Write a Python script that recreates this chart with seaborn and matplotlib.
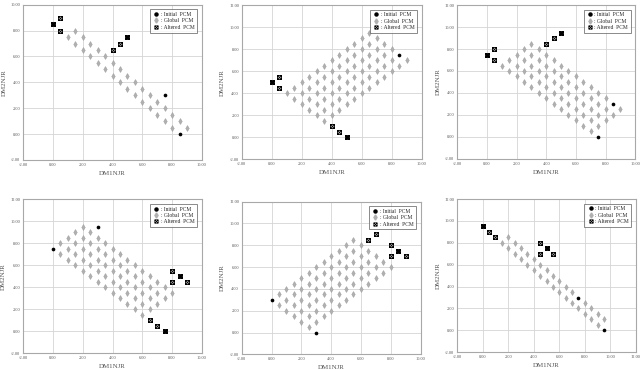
import pandas as pd
import numpy as np
import matplotlib.pyplot as plt
import seaborn as sns
from matplotlib.path import Path
from matplotlib.lines import Line2D

# Global PCM points, one entry per row: y value -> x values
p1_global = {8.0: [1.5], 7.5: [1, 2], 7.0: [1.5, 2.5], 6.5: [2, 3], 6.0: [2.5, 3.5],
             5.5: [3, 4], 5.0: [3.5, 4.5], 4.5: [4, 5], 4.0: [4.5, 5.5], 3.5: [5, 6],
             3.0: [5.5, 6.5], 2.5: [6, 7], 2.0: [6.5, 7.5], 1.5: [7, 8], 1.0: [7.5, 8.5],
             0.5: [8, 9]}
p2_global = {9.5: [6.5], 9.0: [6, 7], 8.5: [5.5, 6.5, 7.5], 8.0: [5, 6, 7, 8],
             7.5: [4.5, 5.5, 6.5, 7.5], 7.0: [4, 5, 6, 7, 8, 9],
             6.5: [3.5, 4.5, 5.5, 6.5, 7.5, 8.5], 6.0: [3, 4, 5, 6, 7, 8],
             5.5: [2.5, 3.5, 4.5, 5.5, 6.5, 7.5], 5.0: [2, 3, 4, 5, 6, 7],
             4.5: [1.5, 2.5, 3.5, 4.5, 5.5, 6.5], 4.0: [1, 2, 3, 4, 5, 6],
             3.5: [1.5, 2.5, 3.5, 4.5, 5.5], 3.0: [2, 3, 4, 5], 2.5: [2.5, 3.5, 4.5],
             2.0: [3, 4], 1.5: [3.5]}
p3_global = {8.5: [3], 8.0: [2.5, 3.5], 7.5: [2, 3, 4], 7.0: [1.5, 2.5, 3.5, 4.5],
             6.5: [1, 2, 3, 4, 5], 6.0: [1.5, 2.5, 3.5, 4.5, 5.5], 5.5: [2, 3, 4, 5, 6],
             5.0: [2.5, 3.5, 4.5, 5.5, 6.5], 4.5: [3, 4, 5, 6, 7],
             4.0: [3.5, 4.5, 5.5, 6.5, 7.5], 3.5: [4, 5, 6, 7, 8], 3.0: [4.5, 5.5, 6.5, 7.5],
             2.5: [5, 6, 7, 8, 9], 2.0: [5.5, 6.5, 7.5, 8.5], 1.5: [6, 7, 8],
             1.0: [6.5, 7.5], 0.5: [7]}
p4_global = {9.5: [2], 9.0: [1.5, 2.5], 8.5: [1, 2, 3], 8.0: [0.5, 1.5, 2.5, 3.5],
             7.5: [1, 2, 3, 4], 7.0: [0.5, 1.5, 2.5, 3.5, 4.5], 6.5: [1, 2, 3, 4, 5],
             6.0: [1.5, 2.5, 3.5, 4.5, 5.5], 5.5: [2, 3, 4, 5, 6],
             5.0: [2.5, 3.5, 4.5, 5.5, 6.5], 4.5: [3, 4, 5, 6, 7],
             4.0: [3.5, 4.5, 5.5, 6.5, 7.5], 3.5: [4, 5, 6, 7, 8], 3.0: [4.5, 5.5, 6.5, 7.5],
             2.5: [5, 6, 7], 2.0: [5.5, 6.5], 1.5: [6]}
p5_global = {8.5: [5.5], 8.0: [5, 6], 7.5: [4.5, 5.5, 6.5], 7.0: [4, 5, 6, 7],
             6.5: [3.5, 4.5, 5.5, 6.5, 7.5], 6.0: [3, 4, 5, 6, 7, 8],
             5.5: [2.5, 3.5, 4.5, 5.5, 6.5, 7.5], 5.0: [2, 3, 4, 5, 6, 7],
             4.5: [1.5, 2.5, 3.5, 4.5, 5.5, 6.5], 4.0: [1, 2, 3, 4, 5, 6],
             3.5: [0.5, 1.5, 2.5, 3.5, 4.5, 5.5], 3.0: [1, 2, 3, 4, 5],
             2.5: [0.5, 1.5, 2.5, 3.5, 4.5], 2.0: [1, 2, 3, 4], 1.5: [1.5, 2.5, 3.5],
             1.0: [2, 3], 0.5: [2.5]}
p6_global = {8.5: [2], 8.0: [1.5, 2.5], 7.5: [2, 3], 7.0: [2.5, 3.5], 6.5: [3, 4],
             6.0: [3.5, 4.5], 5.5: [4, 5], 5.0: [4.5, 5.5], 4.5: [5, 6], 4.0: [5.5, 6.5],
             3.5: [6, 7], 3.0: [6.5], 2.5: [7, 8], 2.0: [7.5, 8.5], 1.5: [8, 9],
             1.0: [8.5, 9.5], 0.5: [9]}

# Initial PCM (x, y)
p1_initial = [(0, 8.5), (5, 7.5), (7.5, 3), (8.5, 0)]
p2_initial = [(0, 5), (5, 0), (8.5, 7.5)]
p3_initial = [(0, 7.5), (5, 9.5), (8.5, 3), (7.5, 0)]
p4_initial = [(0, 7.5), (3, 9.5), (8.5, 5), (7.5, 0)]
p5_initial = [(0, 3), (3, 0), (8.5, 7.5)]
p6_initial = [(0, 9.5), (5, 7.5), (7.5, 3), (9.5, 0)]

# Altered PCM (x, y)
p1_altered = [(0, 8.5), (0.5, 9), (0.5, 8), (4, 6.5), (4.5, 7), (5, 7.5)]
p2_altered = [(0, 5), (0.5, 5.5), (0.5, 4.5), (4, 1), (4.5, 0.5), (5, 0)]
p3_altered = [(0, 7.5), (0.5, 8), (0.5, 7), (4, 8.5), (4.5, 9), (5, 9.5)]
p4_altered = [(8, 5.5), (8, 4.5), (8.5, 5), (9, 4.5), (6.5, 1), (7, 0.5), (7.5, 0)]
p5_altered = [(6.5, 8.5), (7, 9), (8, 8), (8, 7), (8.5, 7.5), (9, 7)]
p6_altered = [(0, 9.5), (0.5, 9), (1, 8.5), (4.5, 8), (4.5, 7), (5.5, 7), (5, 7.5)]

x_limits = [(-2, 10), (-2, 10), (-2, 10), (-2, 10), (-2, 10), (-2, 12)]
y_limits = [(-2, 10), (-2, 12), (-2, 12), (-2, 12), (-2, 12), (-2, 12)]

sns.set_style("whitegrid")
plt.rcParams['font.family'] = ['Liberation Serif', 'DejaVu Serif']

# square with an x inside
box_x = Path([(-1, -1), (1, -1), (1, 1), (-1, 1), (-1, -1), (-1, -1), (1, 1), (-1, 1), (1, -1)],
             [Path.MOVETO, Path.LINETO, Path.LINETO, Path.LINETO, Path.CLOSEPOLY,
              Path.MOVETO, Path.LINETO, Path.MOVETO, Path.LINETO])


def rows_to_df(rows):
    xs, ys = [], []
    for y, row in rows.items():
        for x in row:
            xs.append(x)
            ys.append(y)
    return pd.DataFrame({'x': xs, 'y': ys})


def pts_to_df(pts):
    return pd.DataFrame(pts, columns=['x', 'y'])


panels = [
    (p1_global, p1_initial, p1_altered),
    (p2_global, p2_initial, p2_altered),
    (p3_global, p3_initial, p3_altered),
    (p4_global, p4_initial, p4_altered),
    (p5_global, p5_initial, p5_altered),
    (p6_global, p6_initial, p6_altered),
]

# axes boxes in figure fractions [left, bottom, width, height]
boxes = [
    [0.036, 0.568, 0.278, 0.419],
    [0.376, 0.570, 0.280, 0.416],
    [0.711, 0.571, 0.277, 0.415],
    [0.036, 0.045, 0.278, 0.416],
    [0.376, 0.042, 0.278, 0.413],
    [0.711, 0.048, 0.278, 0.414],
]

fig = plt.figure(figsize=(6.43, 3.70), dpi=100)

for i, (g, ini, alt) in enumerate(panels):
    ax = fig.add_axes(boxes[i])
    sns.scatterplot(data=rows_to_df(g), x='x', y='y', ax=ax, marker='d', s=9,
                    color='#b0b0b0', edgecolor='#999999', linewidth=0.3, zorder=3)
    sns.scatterplot(data=pts_to_df(alt), x='x', y='y', ax=ax, marker=box_x, s=8,
                    color='#d8d8d8', edgecolor='black', linewidth=0.6, zorder=4)
    sns.scatterplot(data=pts_to_df(ini), x='x', y='y', ax=ax, marker='o', s=7,
                    color='black', edgecolor='black', linewidth=0, zorder=5)

    ax.set_xlim(*x_limits[i])
    ax.set_ylim(*y_limits[i])
    ax.set_xticks(np.arange(x_limits[i][0], x_limits[i][1] + 1, 2))
    ax.set_yticks(np.arange(y_limits[i][0], y_limits[i][1] + 1, 2))
    ax.xaxis.set_major_formatter(plt.FormatStrFormatter('%.2f'))
    ax.yaxis.set_major_formatter(plt.FormatStrFormatter('%.2f'))
    ax.tick_params(labelsize=3.2, labelcolor='#555555', length=0, pad=2)
    ax.grid(True, color='#d4d4d4', linewidth=0.6)
    for sp in ax.spines.values():
        sp.set_color('#a8a8a8')
        sp.set_linewidth(0.8)
    ax.set_xlabel('DM1NJR', fontsize=5, color='#555555', labelpad=3)
    ax.set_ylabel('DM2NJR', fontsize=5, color='#555555', labelpad=3)

    handles = [
        Line2D([], [], linestyle='none', marker='o', markersize=2.2, color='black'),
        Line2D([], [], linestyle='none', marker='d', markersize=2.6, color='#b0b0b0'),
        Line2D([], [], linestyle='none', marker=box_x, markersize=2.4,
               markerfacecolor='#d8d8d8', markeredgecolor='black', markeredgewidth=0.5),
    ]
    leg = ax.legend(handles, [': Initial  PCM', ': Global  PCM', ': Altered  PCM'],
                    loc='upper right', fontsize=4, frameon=True, fancybox=False,
                    borderpad=0.5, handletextpad=0.2, labelspacing=0.25,
                    handlelength=1.2, borderaxespad=0.8)
    leg.get_frame().set_edgecolor('#555555')
    leg.get_frame().set_linewidth(0.6)

plt.savefig('out.png', dpi=100)
